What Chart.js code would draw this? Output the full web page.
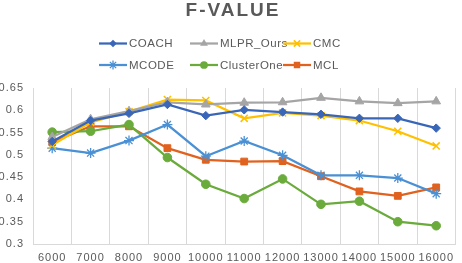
<!DOCTYPE html>
<html>
<head>
<meta charset="utf-8">
<script src="https://cdn.jsdelivr.net/npm/chart.js@4/dist/chart.umd.min.js"></script>
<style>
html,body{margin:0;padding:0;background:#fff;}
#wrap{width:462px;height:263px;position:relative;}
</style>
</head>
<body>
<div id="wrap"><canvas id="c" width="462" height="263"></canvas></div>
<script>
const title = 'F-VALUE';
const categories = ['6000','7000','8000','9000','10000','11000','12000','13000','14000','15000','16000'];
const yTicks = [0.3,0.35,0.4,0.45,0.5,0.55,0.6,0.65];
const seriesNames = ['COACH','MLPR_Ours','CMC','MCODE','ClusterOne','MCL'];
const coach      = [0.530,0.577,0.593,0.613,0.588,0.601,0.596,0.591,0.582,0.582,0.560];
const mlprOurs   = [0.540,0.580,0.598,0.618,0.613,0.617,0.618,0.628,0.620,0.616,0.620];
const cmc        = [0.522,0.573,0.597,0.624,0.622,0.582,0.594,0.588,0.577,0.553,0.520];
const mcode      = [0.515,0.504,0.532,0.568,0.497,0.531,0.499,0.454,0.454,0.448,0.413];
const clusterOne = [0.551,0.553,0.568,0.494,0.434,0.402,0.446,0.389,0.396,0.350,0.341];
const mcl        = [0.529,0.564,0.564,0.515,0.489,0.485,0.486,0.452,0.418,0.408,0.427];

const FONT = "'Liberation Sans', Arial, sans-serif";
const styles = [
  {color:'#3A66B8', point:'rectRot', r:4.2, pw:1},
  {color:'#A5A5A5', point:'triangle', r:5, pw:1},
  {color:'#FFC000', point:'crossRot', r:5, pw:1.6},
  {color:'#4A90D4', point:'star', r:5, pw:1.3},
  {color:'#6AAB3C', point:'circle', r:4.3, pw:1},
  {color:'#E0621E', point:'rect', r:4.8, pw:1}
];
const values = [coach, mlprOurs, cmc, mcode, clusterOne, mcl];

const datasets = seriesNames.map((n,i)=>({
  label:n,
  data:values[i],
  borderColor:styles[i].color,
  backgroundColor:styles[i].color,
  borderWidth:2.25,
  pointStyle:styles[i].point,
  pointRadius:styles[i].r,
  pointBorderWidth:styles[i].pw,
  pointBackgroundColor:styles[i].color,
  pointBorderColor:styles[i].color,
  tension:0,
  fill:false
}));

function drawMarker(ctx, style, r, x, y, color, bw){
  ctx.save();
  ctx.fillStyle = color; ctx.strokeStyle = color; ctx.lineWidth = bw;
  ctx.beginPath();
  if(style==='rectRot'){ ctx.moveTo(x,y-r); ctx.lineTo(x+r,y); ctx.lineTo(x,y+r); ctx.lineTo(x-r,y); ctx.closePath(); ctx.fill(); }
  else if(style==='triangle'){ ctx.moveTo(x,y-r); ctx.lineTo(x+r*0.87,y+r*0.5); ctx.lineTo(x-r*0.87,y+r*0.5); ctx.closePath(); ctx.fill(); }
  else if(style==='crossRot'){ const d=r*0.7; ctx.moveTo(x-d,y-d); ctx.lineTo(x+d,y+d); ctx.moveTo(x+d,y-d); ctx.lineTo(x-d,y+d); ctx.stroke(); }
  else if(style==='star'){ const d=r*0.7; ctx.moveTo(x-d,y-d); ctx.lineTo(x+d,y+d); ctx.moveTo(x+d,y-d); ctx.lineTo(x-d,y+d); ctx.moveTo(x,y-r); ctx.lineTo(x,y+r); ctx.stroke(); }
  else if(style==='circle'){ ctx.arc(x,y,r,0,Math.PI*2); ctx.fill(); }
  else if(style==='rect'){ const s=r*0.75; ctx.rect(x-s,y-s,2*s,2*s); ctx.fill(); }
  ctx.restore();
}

const headerPlugin = {
  id:'header',
  beforeDraw(chart){ chart.ctx.letterSpacing = '1px'; },
  afterDraw(chart){
    const ctx = chart.ctx;
    ctx.save();
    ctx.letterSpacing = '2px';
    ctx.font = "bold 19px " + FONT;
    ctx.fillStyle = '#595959';
    ctx.textAlign = 'center'; ctx.textBaseline = 'middle';
    ctx.fillText(title, 233, 11);
    ctx.letterSpacing = '0.5px';
    ctx.font = "11.5px " + FONT;
    ctx.textAlign = 'left';
    const cols = [99, 190, 283];
    const rows = [43.5, 65];
    chart.data.datasets.forEach((ds,i)=>{
      const x = cols[i%3], y = rows[Math.floor(i/3)];
      const st = styles[i];
      ctx.strokeStyle = ds.borderColor; ctx.lineWidth = 2.25;
      ctx.beginPath(); ctx.moveTo(x,y); ctx.lineTo(x+28,y); ctx.stroke();
      drawMarker(ctx, st.point, st.r*0.9, x+14, y, ds.borderColor, st.pw);
      ctx.fillStyle = '#595959';
      ctx.fillText(ds.label, x+30, y+0.5);
    });
    ctx.restore();
  }
};

new Chart(document.getElementById('c'), {
  type:'line',
  data:{labels:categories, datasets},
  options:{
    responsive:false,
    animation:false,
    devicePixelRatio:1,
    layout:{padding:{top:88, right:1, left:0, bottom:0}},
    plugins:{legend:{display:false}, title:{display:false}, tooltip:{enabled:false}},
    scales:{
      x:{
        offset:true,
        grid:{display:true, offset:true, color:'#D9D9D9', lineWidth:1, drawTicks:false},
        border:{display:true, color:'#D9D9D9'},
        ticks:{color:'#595959', font:{family:FONT, size:11}, padding:7, maxRotation:0, autoSkip:false},
        afterFit(s){ s.height = 19; }
      },
      y:{
        min:0.3, max:0.65,
        afterBuildTicks(s){ s.ticks = yTicks.map(v=>({value:v})); },
        grid:{display:false, drawTicks:false},
        border:{display:false},
        ticks:{color:'#595959', font:{family:FONT, size:11}, padding:9,
          callback:v=>String(Math.round(v*100)/100)},
        afterFit(s){ s.width = 33; }
      }
    }
  },
  plugins:[headerPlugin]
});
</script>
</body>
</html>
